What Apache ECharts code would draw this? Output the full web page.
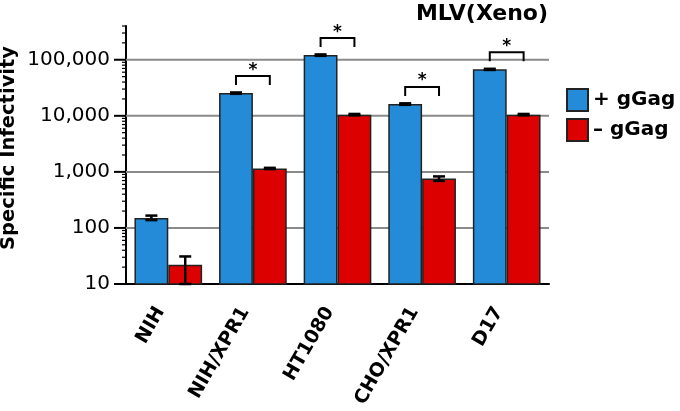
<!DOCTYPE html>
<html>
<head>
<meta charset="utf-8">
<script src="https://cdn.jsdelivr.net/npm/echarts@6.0.0/dist/echarts.min.js"></script>
<style>
  html, body { margin: 0; padding: 0; background: #fff; }
  #chart { width: 680px; height: 411px; }
</style>
</head>
<body>
<div id="chart"></div>
<script>
const categories = ["NIH", "NIH/XPR1", "HT1080", "CHO/XPR1", "D17"];
const plusGag = [151, 25400, 121000, 16200, 67400];
const plusLow = [138, 24700, 117500, 15700, 65800];
const plusHigh = [166, 26100, 124500, 16700, 69000];
const minusGag = [22, 1150, 10500, 760, 10500];
const minusLow = [10, 1120, 10200, 690, 10200];
const minusHigh = [31, 1180, 10800, 830, 10800];
const significant = [false, true, true, true, true];
const decades = [10, 100, 1000, 10000, 100000];
const yMin = 10;
const yMax = 400000;

const FONT = "DejaVu Sans";
const BLUE = "#238bd7";
const RED = "#dc0000";

// tick marks on the y axis (major at decades, minor at 2..9)
const tickData = [];
decades.forEach(d => {
  for (let k = 1; k <= 9; k++) {
    if (d * k <= yMax) tickData.push([0, d * k, k === 1 ? 1 : 0]);
  }
});

function errorBars(sign) {
  return function (params, api) {
    const i = api.value(0);
    const band = api.size([1, 0])[0];
    const pLo = api.coord([i, api.value(1)]);
    const pHi = api.coord([i, api.value(2)]);
    const x = pLo[0] + sign * band * 0.2;
    const style = { stroke: "#000", lineWidth: 2.5 };
    return {
      type: "group",
      children: [
        { type: "line", shape: { x1: x, y1: pLo[1], x2: x, y2: pHi[1] }, style },
        { type: "line", shape: { x1: x - 6, y1: pLo[1], x2: x + 6, y2: pLo[1] }, style },
        { type: "line", shape: { x1: x - 6, y1: pHi[1], x2: x + 6, y2: pHi[1] }, style }
      ]
    };
  };
}

const chart = echarts.init(document.getElementById("chart"));

chart.setOption({
  animation: false,
  title: {
    text: "MLV(Xeno)",
    right: 127,
    top: -2,
    textStyle: { fontFamily: FONT, fontWeight: "bold", fontSize: 22, color: "#000" }
  },
  legend: {
    data: ["+ gGag", "– gGag"],
    orient: "vertical",
    left: 561,
    top: 83,
    itemWidth: 21,
    itemHeight: 22,
    itemGap: 6,
    icon: "rect",
    textStyle: { fontFamily: FONT, fontWeight: "bold", fontSize: 20, color: "#000" }
  },
  grid: {
    left: 126, right: 131, top: 26, bottom: 127,
    containLabel: false,
    outerBoundsMode: "none"
  },
  xAxis: {
    type: "category",
    data: categories,
    axisLine: { lineStyle: { color: "#000", width: 2 } },
    axisTick: { length: 8, lineStyle: { color: "#000", width: 2 } },
    axisLabel: {
      rotate: 60,
      interval: 0,
      margin: 29,
      verticalAlign: "bottom",
      lineHeight: 18,
      fontFamily: FONT,
      fontWeight: "bold",
      fontSize: 19,
      color: "#000"
    }
  },
  yAxis: {
    type: "log",
    logBase: 10,
    min: yMin,
    max: yMax,
    name: "Specific Infectivity",
    nameLocation: "middle",
    nameGap: 107,
    nameMoveOverlap: false,
    nameTextStyle: {
      fontFamily: FONT, fontWeight: "bold", fontSize: 19.5, color: "#000",
      padding: [0, 0, 0, 14]
    },
    axisLine: { show: true, lineStyle: { color: "#000", width: 2 } },
    axisTick: { show: false },
    splitLine: { show: false },
    axisLabel: {
      showMaxLabel: false,
      margin: 16,
      fontFamily: FONT,
      fontSize: 20,
      color: "#000",
      formatter: v => Number(v).toLocaleString("en-US")
    }
  },
  series: [
    {
      // horizontal grid lines at the decades
      type: "custom",
      z: 1,
      silent: true,
      data: decades.slice(1).map(d => [0, d]),
      encode: { x: 0, y: 1 },
      renderItem: function (params, api) {
        const band = api.size([1, 0])[0];
        const p = api.coord([0, api.value(1)]);
        const left = p[0] - band / 2;
        return {
          type: "line",
          shape: { x1: left, y1: p[1], x2: left + band * categories.length, y2: p[1] },
          style: { stroke: "#8a8a8a", lineWidth: 2 }
        };
      }
    },
    {
      // y axis ticks
      type: "custom",
      z: 3,
      silent: true,
      clip: false,
      data: tickData,
      encode: { x: 0, y: 1 },
      renderItem: function (params, api) {
        const band = api.size([1, 0])[0];
        const p = api.coord([0, api.value(1)]);
        const left = p[0] - band / 2;
        const len = api.value(2) ? 12 : 4;
        return {
          type: "line",
          shape: { x1: left - len, y1: p[1], x2: left, y2: p[1] },
          style: { stroke: "#000", lineWidth: api.value(2) ? 2 : 1.2 }
        };
      }
    },
    {
      name: "+ gGag",
      type: "bar",
      z: 2,
      data: plusGag,
      barGap: "0%",
      barCategoryGap: "20%",
      itemStyle: { color: BLUE, borderColor: "#222", borderWidth: 1.5 }
    },
    {
      name: "– gGag",
      type: "bar",
      z: 2,
      data: minusGag,
      barGap: "0%",
      barCategoryGap: "20%",
      itemStyle: { color: RED, borderColor: "#222", borderWidth: 1.5 }
    },
    {
      type: "custom",
      z: 4,
      silent: true,
      data: categories.map((c, i) => [i, plusLow[i], plusHigh[i]]),
      encode: { x: 0, y: [1, 2] },
      renderItem: errorBars(-1)
    },
    {
      type: "custom",
      z: 4,
      silent: true,
      data: categories.map((c, i) => [i, minusLow[i], minusHigh[i]]),
      encode: { x: 0, y: [1, 2] },
      renderItem: errorBars(1)
    },
    {
      // significance brackets
      type: "custom",
      z: 4,
      silent: true,
      clip: false,
      data: categories.map((c, i) => [i, plusGag[i]]).filter((d, i) => significant[i]),
      encode: { x: 0, y: 1 },
      renderItem: function (params, api) {
        const i = api.value(0);
        const band = api.size([1, 0])[0];
        const p = api.coord([i, api.value(1)]);
        const top = p[1] - 17;
        const xL = p[0] - band * 0.2;
        const xR = p[0] + band * 0.2;
        return {
          type: "group",
          children: [
            {
              type: "polyline",
              shape: { points: [[xL, top + 9], [xL, top], [xR, top], [xR, top + 9]] },
              style: { stroke: "#000", lineWidth: 2, fill: null }
            },
            {
              type: "text",
              style: {
                text: "*",
                x: (xL + xR) / 2,
                y: top - 6,
                align: "center",
                verticalAlign: "middle",
                font: "bold 17px " + FONT,
                fill: "#000"
              }
            }
          ]
        };
      }
    }
  ]
});
</script>
</body>
</html>
